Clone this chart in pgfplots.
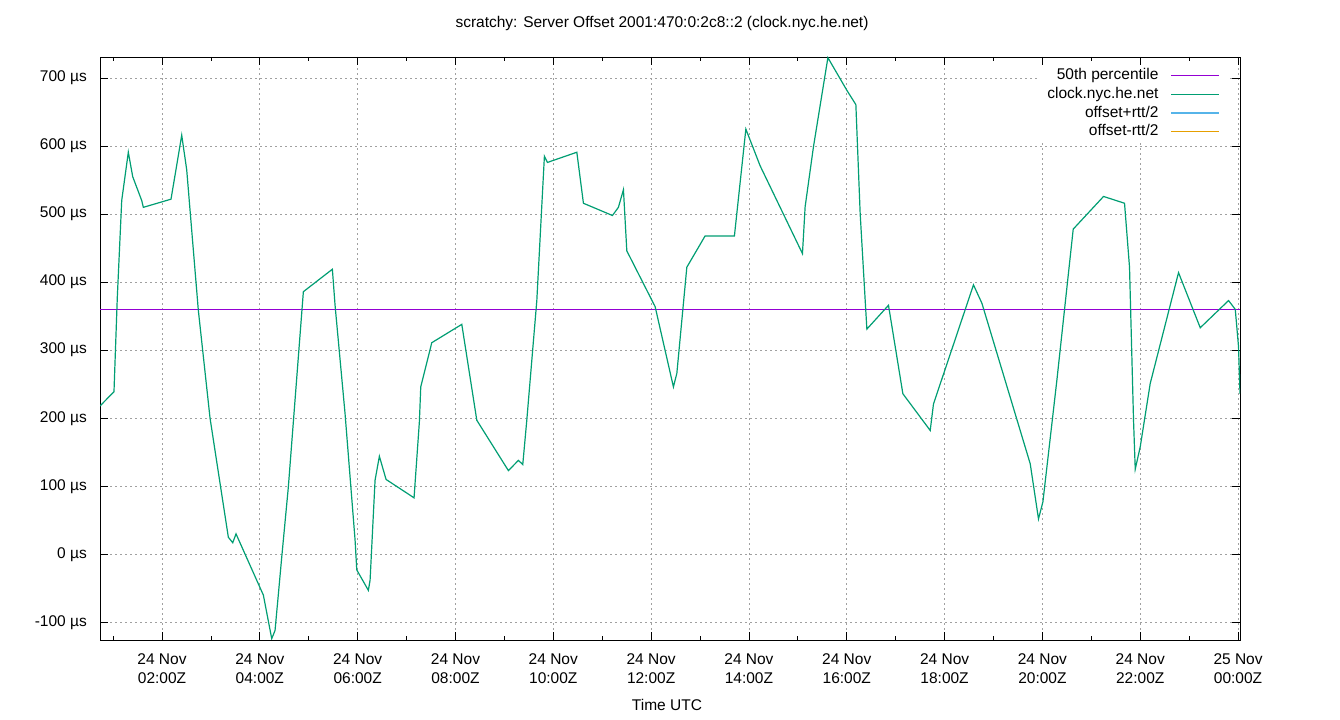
\documentclass[border=0pt]{standalone}
\usepackage{pgfplots}
\pgfplotsset{compat=1.18}
\usepackage{fontspec}
\setmainfont{Liberation Sans}
\definecolor{gpviolet}{HTML}{9400D3}
\definecolor{gpgreen}{HTML}{009E73}
\definecolor{gpblue}{HTML}{56B4E9}
\definecolor{gporange}{HTML}{E69F00}
\definecolor{gpgrid}{HTML}{A0A0A0}
\newcommand{\gpfont}{\fontsize{15.5bp}{19bp}\selectfont}
\begin{document}
\begin{tikzpicture}
\fill[white] (0,0) rectangle (1340bp,720bp);
\begin{axis}[
  at={(100bp,80bp)}, anchor=south west,
  scale only axis, width=1140bp, height=583bp,
  font=\gpfont,
  xmin=0.732, xmax=24.04, ymin=-126, ymax=731,
  axis line style={black, line width=0.8bp},
  tick align=inside, major tick length=8bp, minor tick length=4bp,
  tick style={black, line width=0.8bp},
  xtick={2,4,...,24},
  minor xtick={1,3,...,23},
  xticklabels={{24 Nov\\02:00Z},{24 Nov\\04:00Z},{24 Nov\\06:00Z},{24 Nov\\08:00Z},{24 Nov\\10:00Z},{24 Nov\\12:00Z},{24 Nov\\14:00Z},{24 Nov\\16:00Z},{24 Nov\\18:00Z},{24 Nov\\20:00Z},{24 Nov\\22:00Z},{25 Nov\\00:00Z}},
  xticklabel style={font=\gpfont, align=center, inner sep=0pt, yshift=-13bp},
  ytick={-100,0,100,200,300,400,500,600,700},
  yticklabels={{-100 µs},{0 µs},{100 µs},{200 µs},{300 µs},{400 µs},{500 µs},{600 µs},{700 µs}},
  yticklabel style={font=\gpfont, anchor=east, inner sep=0pt, xshift=-13bp},
  xmajorgrids, ymajorgrids,
  major grid style={gpgrid, line width=0.8bp, dash pattern=on 2bp off 3bp},
  title={scratchy: Server Offset 2001:470:0:2c8::2 (clock.nyc.he.net)},
  title style={font=\gpfont, anchor=base, at={(0.5,1)}, yshift=24bp, xshift=-8bp, inner sep=0pt},
  xlabel={Time UTC},
  xlabel style={font=\gpfont, anchor=base, at={(0.5,0)}, yshift=-70bp, xshift=-3bp, inner sep=0pt},
  legend plot pos=right,
  legend cell align=right,
  legend image code/.code={\draw[#1] (0bp,0bp) -- (48bp,0bp);},
  legend style={at={(0.9912,0.9854)}, anchor=north east, draw=none, fill=white,
    inner xsep=10bp, inner ysep=3bp, row sep=4.7bp, column sep=12bp,
    nodes={inner sep=0pt, text height=11bp, text depth=3bp},
    font=\gpfont},
]
\addplot[color=gpviolet, line width=1.3bp] coordinates {(0.732,360) (24.04,360)};
\addlegendentry{50th percentile}
\addplot[color=gpgreen, line width=1.2bp] coordinates {
(0.732,218) (1.018,239) (1.086,378) (1.176,520) (1.311,591) (1.401,555)
(1.585,520) (1.618,510) (2.184,522) (2.403,616) (2.505,565) (2.742,359)
(2.982,200) (3.356,25) (3.446,17) (3.513,30) (4.072,-60) (4.243,-124)
(4.311,-112) (4.448,-4) (4.583,99) (4.890,386) (5.483,419) (5.538,366)
(5.742,207) (5.947,21) (5.982,-23) (6.219,-53) (6.254,-38) (6.356,109)
(6.444,144) (6.581,110) (7.153,83) (7.262,195) (7.290,246) (7.515,311)
(8.129,338) (8.436,197) (9.082,123) (9.286,138) (9.376,132) (9.458,197)
(9.663,373) (9.818,585) (9.880,576) (10.481,591) (10.616,516) (11.209,498)
(11.331,510) (11.434,536) (11.503,446) (12.082,364) (12.456,246) (12.526,266)
(12.730,422) (13.104,468) (13.703,468) (13.937,625) (14.229,571) (15.094,442)
(15.149,511) (15.319,599) (15.614,730) (16.002,682) (16.186,661) (16.274,501)
(16.376,374) (16.411,331) (16.853,366) (17.147,236) (17.706,182) (17.773,221)
(18.591,396) (18.763,369) (19.751,133) (19.920,52) (20.010,77) (20.296,256)
(20.630,478) (21.250,526) (21.679,516) (21.781,422) (21.863,197) (21.898,125)
(22.000,158) (22.204,251) (22.783,414) (23.227,333) (23.806,373) (23.943,360)
(24.010,305) (24.040,236)
};
\addlegendentry{clock.nyc.he.net}
\addlegendimage{color=gpblue, line width=1.3bp}
\addlegendentry{offset+rtt/2}
\addlegendimage{color=gporange, line width=1.3bp}
\addlegendentry{offset-rtt/2}
\end{axis}
\end{tikzpicture}
\end{document}
